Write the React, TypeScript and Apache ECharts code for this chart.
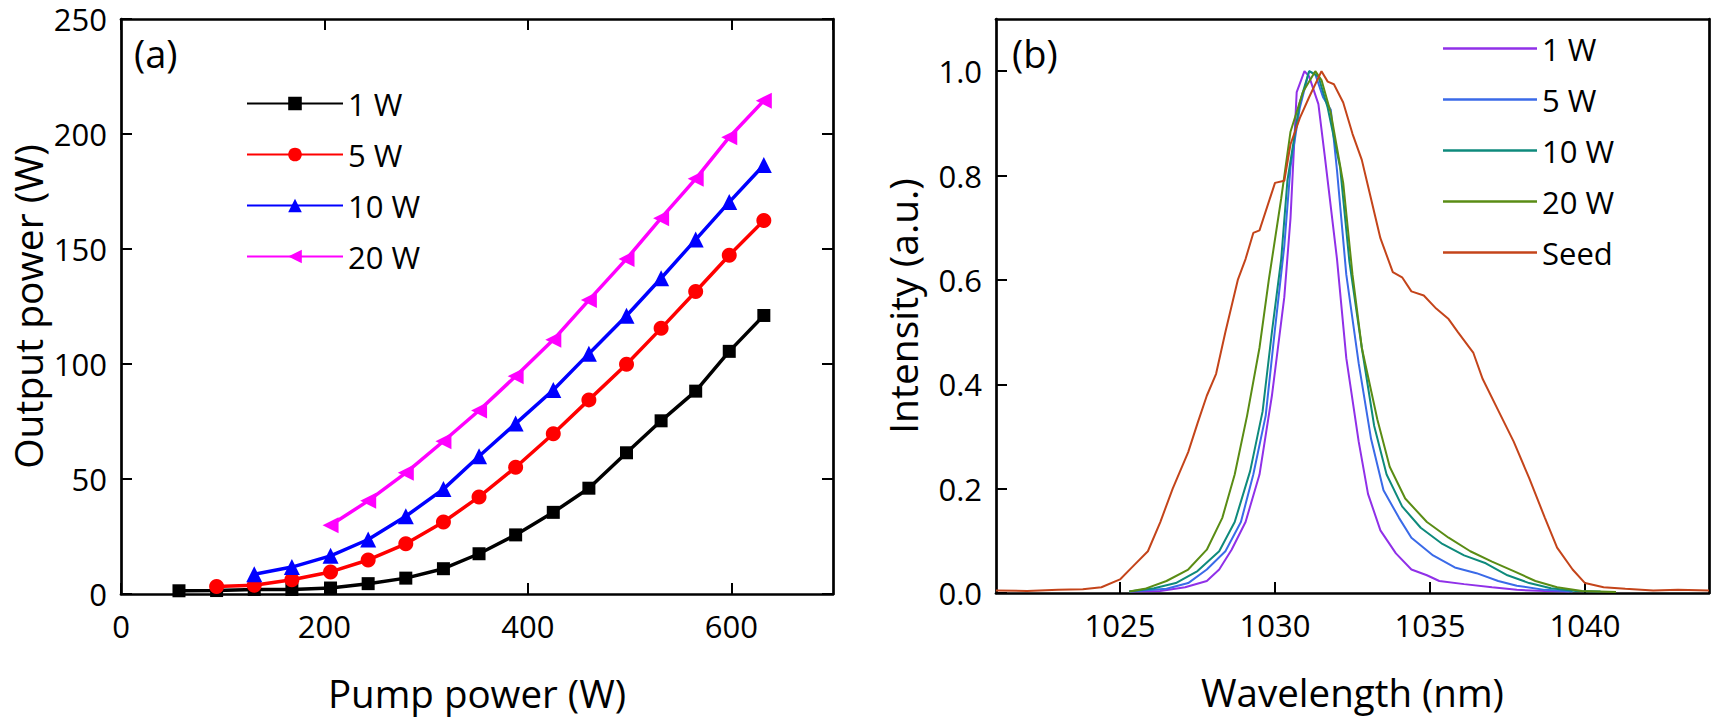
import React, { useEffect, useRef } from "react";
import * as echarts from "echarts";

// ---------- Panel (a): output power vs pump power ----------
const pumpPower = [57, 94, 131, 168, 206, 243, 280, 317, 352, 388, 425, 460, 497, 531, 565, 598, 632];
const out1W = [1.4, 1.5, 2.0, 2.0, 2.6, 4.5, 6.9, 11.0, 17.5, 25.7, 35.5, 46.0, 61.4, 75.3, 88.2, 105.5, 121.1];
const out5W = [3.3, 3.8, 6.2, 9.6, 14.8, 21.8, 31.3, 42.2, 55.1, 69.7, 84.4, 99.9, 115.5, 131.5, 147.3, 162.4];
const out10W = [8.6, 11.7, 16.6, 23.7, 33.8, 45.6, 59.9, 74.1, 88.7, 104.5, 121.0, 137.3, 154.1, 170.4, 186.5];
const out20W = [29.9, 40.5, 52.7, 66.4, 79.8, 94.7, 110.5, 127.8, 145.7, 163.4, 180.5, 198.6, 214.5];
const seriesNamesA = ["1 W", "5 W", "10 W", "20 W"];

// ---------- Panel (b): spectra ----------
const seedWl = [1021, 1022, 1023, 1023.8, 1024.4, 1025, 1025.4, 1025.9, 1026.3, 1026.7, 1027.2, 1027.5, 1027.8, 1028.1, 1028.4, 1028.8, 1029.05, 1029.3, 1029.5, 1030.0, 1030.3, 1030.5, 1030.8, 1031.1, 1031.5, 1031.7, 1031.9, 1032.2, 1032.5, 1032.8, 1033.0, 1033.4, 1033.8, 1034.1, 1034.4, 1034.8, 1035.2, 1035.6, 1035.9, 1036.4, 1036.7, 1037.2, 1037.7, 1038.2, 1038.7, 1039.1, 1039.6, 1040.0, 1040.6, 1041.3, 1042.2, 1043, 1044];
const seedInt = [0.005, 0.004, 0.006, 0.007, 0.011, 0.026, 0.05, 0.08, 0.136, 0.2, 0.27, 0.325, 0.378, 0.42, 0.5, 0.6, 0.64, 0.69, 0.695, 0.786, 0.79, 0.86, 0.91, 0.95, 1.0, 0.98, 0.975, 0.94, 0.88, 0.83, 0.78, 0.68, 0.615, 0.605, 0.578, 0.57, 0.545, 0.525, 0.5, 0.46, 0.41, 0.35, 0.29, 0.22, 0.145, 0.087, 0.045, 0.019, 0.011, 0.008, 0.005, 0.006, 0.005];

const wl1W = [1025.3, 1026.3, 1027.1, 1027.8, 1028.2, 1028.6, 1029.05, 1029.5, 1029.9, 1030.3, 1030.5, 1030.7, 1030.95, 1031.1, 1031.4, 1031.6, 1032.0, 1032.3, 1032.7, 1033.0, 1033.4, 1033.9, 1034.4, 1034.9, 1035.3, 1036.1, 1037.0, 1037.8, 1038.7, 1039.5];
const int1W = [0.003, 0.004, 0.011, 0.023, 0.045, 0.083, 0.136, 0.227, 0.378, 0.567, 0.718, 0.96, 1.0, 0.99, 0.937, 0.84, 0.64, 0.45, 0.29, 0.19, 0.12, 0.076, 0.045, 0.034, 0.023, 0.017, 0.011, 0.006, 0.004, 0.003];

const wl5W = [1025.3, 1026.5, 1027.2, 1027.8, 1028.4, 1028.9, 1029.3, 1029.7, 1030.0, 1030.3, 1030.5, 1030.8, 1031.1, 1031.3, 1031.55, 1031.8, 1032.0, 1032.3, 1032.7, 1033.1, 1033.5, 1034.0, 1034.4, 1035.1, 1035.8, 1036.5, 1037.2, 1037.8, 1038.7, 1039.6];
const int5W = [0.003, 0.008, 0.019, 0.045, 0.08, 0.136, 0.227, 0.34, 0.506, 0.665, 0.816, 0.93, 1.0, 0.994, 0.95, 0.926, 0.81, 0.61, 0.44, 0.295, 0.197, 0.144, 0.106, 0.072, 0.049, 0.038, 0.023, 0.014, 0.006, 0.003];

const wl10W = [1025.3, 1026.1, 1026.8, 1027.5, 1028.2, 1028.7, 1029.2, 1029.6, 1029.9, 1030.2, 1030.4, 1030.8, 1031.1, 1031.4, 1031.7, 1032.1, 1032.4, 1032.8, 1033.2, 1033.6, 1034.1, 1034.7, 1035.4, 1036.1, 1036.8, 1037.5, 1038.2, 1038.9, 1039.7, 1040.5];
const int10W = [0.003, 0.009, 0.019, 0.042, 0.08, 0.136, 0.234, 0.348, 0.5, 0.64, 0.79, 0.94, 1.0, 0.99, 0.93, 0.816, 0.635, 0.47, 0.32, 0.227, 0.166, 0.125, 0.094, 0.072, 0.057, 0.034, 0.019, 0.009, 0.004, 0.003];

const wl20W = [1025.3, 1025.8, 1026.5, 1027.2, 1027.8, 1028.3, 1028.7, 1029.1, 1029.5, 1029.8, 1030.2, 1030.5, 1030.9, 1031.3, 1031.5, 1031.8, 1032.2, 1032.5, 1032.8, 1033.3, 1033.7, 1034.2, 1034.9, 1035.6, 1036.3, 1037.0, 1037.7, 1038.4, 1039.1, 1039.9, 1041.0];
const int20W = [0.003, 0.008, 0.023, 0.045, 0.083, 0.144, 0.227, 0.34, 0.47, 0.6, 0.756, 0.884, 0.96, 1.0, 0.983, 0.92, 0.786, 0.61, 0.47, 0.333, 0.242, 0.181, 0.136, 0.106, 0.08, 0.06, 0.042, 0.023, 0.011, 0.004, 0.002];

const wavelengthTicks = [1025, 1030, 1035, 1040];
const seriesNamesB = ["1 W", "5 W", "10 W", "20 W", "Seed"];

const FONT = "Open Sans";

const pairs = (xs: number[], ys: number[]) => ys.map((y, i) => [xs[i], y]);

export default function App() {
  const ref = useRef<HTMLDivElement>(null);

  useEffect(() => {
    if (!ref.current) return;
    const chart = echarts.init(ref.current, null, { renderer: "svg" });

    const axisLine = { show: true, onZero: false, lineStyle: { color: "#000", width: 2.7 } };
    const tickIn = { show: true, inside: true, length: 11, lineStyle: { color: "#000", width: 2 } };
    const labelStyle = { color: "#000", fontFamily: FONT, fontSize: 31 };
    const xNameStyle = { color: "#000", fontFamily: FONT, fontSize: 38.5 };
    const yNameStyle = { color: "#000", fontFamily: FONT, fontSize: 39, lineHeight: 40 };

    const aData = [
      { name: seriesNamesA[0], vals: out1W, color: "#000000", symbol: "rect", size: 13, rot: 0 },
      { name: seriesNamesA[1], vals: out5W, color: "#ff0000", symbol: "circle", size: 15, rot: 0 },
      { name: seriesNamesA[2], vals: out10W, color: "#0000ff", symbol: "triangle", size: 16, rot: 0 },
      { name: seriesNamesA[3], vals: out20W, color: "#ff00ff", symbol: "triangle", size: 16, rot: 90 },
    ];
    const bData = [
      { name: seriesNamesB[0], wl: wl1W, it: int1W, color: "#9030e8" },
      { name: seriesNamesB[1], wl: wl5W, it: int5W, color: "#3a6ae8" },
      { name: seriesNamesB[2], wl: wl10W, it: int10W, color: "#0e8a7c" },
      { name: seriesNamesB[3], wl: wl20W, it: int20W, color: "#5a8c14" },
      { name: seriesNamesB[4], wl: seedWl, it: seedInt, color: "#c4441a" },
    ];

    const option: any = {
      animation: false,
      backgroundColor: "#fff",
      grid: [
        { left: 121, top: 19, width: 712, height: 575 },
        { left: 996, top: 19, width: 713, height: 574 },
      ],
      xAxis: [
        {
          gridIndex: 0, type: "value", min: 0, max: 700, interval: 200,
          axisLine, axisTick: tickIn, splitLine: { show: false },
          axisLabel: { ...labelStyle, margin: 16, showMaxLabel: false },
          name: "Pump power (W)", nameLocation: "middle", nameGap: 79, nameTextStyle: xNameStyle,
        },
        {
          gridIndex: 0, type: "value", position: "top", min: 0, max: 700, interval: 200,
          axisLine, axisTick: tickIn, splitLine: { show: false }, axisLabel: { show: false },
        },
        {
          gridIndex: 1, type: "value", min: 1021, max: 1044,
          axisLine, axisTick: { ...tickIn, customValues: wavelengthTicks }, splitLine: { show: false },
          axisLabel: { ...labelStyle, margin: 16, customValues: wavelengthTicks, formatter: (v: number) => String(v) },
          name: "Wavelength (nm)", nameLocation: "middle", nameGap: 79, nameTextStyle: xNameStyle,
        },
        {
          gridIndex: 1, type: "value", position: "top", min: 1021, max: 1044,
          axisLine, axisTick: { show: false }, splitLine: { show: false }, axisLabel: { show: false },
        },
      ],
      yAxis: [
        {
          gridIndex: 0, type: "value", min: 0, max: 250, interval: 50,
          axisLine, axisTick: tickIn, splitLine: { show: false },
          axisLabel: { ...labelStyle, margin: 14, lineHeight: 28 },
          name: "Output power (W)", nameLocation: "middle", nameGap: 74, nameTextStyle: yNameStyle,
        },
        {
          gridIndex: 0, type: "value", position: "right", min: 0, max: 250, interval: 50,
          axisLine, axisTick: tickIn, splitLine: { show: false }, axisLabel: { show: false },
        },
        {
          gridIndex: 1, type: "value", min: 0, max: 1.1, interval: 0.2,
          axisLine, axisTick: tickIn, splitLine: { show: false },
          axisLabel: { ...labelStyle, margin: 14, lineHeight: 28, showMaxLabel: false, formatter: (v: number) => v.toFixed(1) },
          name: "Intensity (a.u.)", nameLocation: "middle", nameGap: 74, nameTextStyle: yNameStyle,
        },
        {
          gridIndex: 1, type: "value", position: "right", min: 0, max: 1.1, interval: 0.2,
          axisLine, axisTick: { show: false }, splitLine: { show: false }, axisLabel: { show: false },
        },
      ],
      legend: [
        {
          orient: "vertical", left: 246, top: 88, padding: 0, itemGap: 20,
          itemWidth: 96, itemHeight: 17,
          textStyle: { ...labelStyle, fontSize: 31 },
          data: seriesNamesA,
          selectedMode: false,
        },
        {
          orient: "vertical", left: 1443, top: 33, padding: 0, itemGap: 20,
          itemWidth: 94, itemHeight: 2.5, icon: "rect",
          textStyle: { ...labelStyle, fontSize: 31 },
          data: seriesNamesB.map((n) => "b:" + n),
          formatter: (n: string) => n.replace("b:", ""),
          selectedMode: false,
        },
      ],
      graphic: [
        { type: "text", left: 134, top: 34, style: { text: "(a)", fill: "#000", font: `38px "${FONT}"` } },
        { type: "text", left: 1012, top: 34, style: { text: "(b)", fill: "#000", font: `38px "${FONT}"` } },
      ],
      series: [
        ...aData.map((s) => ({
          name: s.name,
          type: "line",
          xAxisIndex: 0,
          yAxisIndex: 0,
          data: pairs(pumpPower.slice(pumpPower.length - s.vals.length), s.vals),
          symbol: s.symbol,
          symbolSize: s.size,
          symbolRotate: s.rot,
          lineStyle: { color: s.color, width: 3.5 },
          itemStyle: { color: s.color },
          z: 3,
        })),
        ...bData.map((s) => ({
          name: "b:" + s.name,
          type: "line",
          xAxisIndex: 2,
          yAxisIndex: 2,
          data: pairs(s.wl, s.it),
          symbol: "none",
          lineStyle: { color: s.color, width: 2 },
          itemStyle: { color: s.color },
        })),
      ],
    };

    chart.setOption(option);
    return () => chart.dispose();
  }, []);

  return (
    <div
      ref={ref}
      style={{ position: "absolute", left: 0, top: 0, width: 1714, height: 718, background: "#fff" }}
    />
  );
}
